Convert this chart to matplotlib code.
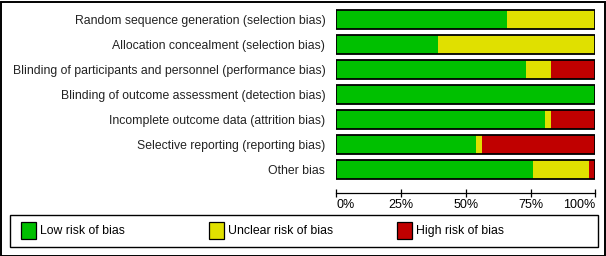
import matplotlib
matplotlib.use("Agg")
import matplotlib.pyplot as plt
from matplotlib.patches import Rectangle

plt.rcParams["font.family"] = ["Liberation Sans", "DejaVu Sans"]

domains = [
    "Random sequence generation (selection bias)",
    "Allocation concealment (selection bias)",
    "Blinding of participants and personnel (performance bias)",
    "Blinding of outcome assessment (detection bias)",
    "Incomplete outcome data (attrition bias)",
    "Selective reporting (reporting bias)",
    "Other bias",
]
low = [65.8, 39.2, 73.1, 100.0, 80.6, 53.8, 75.8]
unclear = [34.2, 60.8, 9.7, 0.0, 2.2, 2.3, 21.8]
high = [0.0, 0.0, 17.2, 0.0, 17.2, 43.9, 2.4]
legend_labels = ["Low risk of bias", "Unclear risk of bias", "High risk of bias"]
colors = ["#00c000", "#e0e000", "#c00000"]
ticks = [0, 25, 50, 75, 100]
tick_labels = ["0%", "25%", "50%", "75%", "100%"]

W, H = 606, 256
fig = plt.figure(figsize=(W / 100, H / 100), dpi=100)

# axes in pixel coordinates
x0, x1 = 336.3, 595.3
y0, y1 = 7, 182
ax = fig.add_axes((x0 / W, 1 - y1 / H, (x1 - x0) / W, (y1 - y0) / H))

pos = list(range(len(domains)))
h = 0.76
left = [0.0] * len(domains)
for vals, c in zip([low, unclear, high], colors):
    ax.barh(pos, vals, left=left, height=h, color=c, linewidth=0)
    left = [a + b for a, b in zip(left, vals)]
ax.barh(pos, [100] * len(domains), height=h, fill=False, edgecolor="black", linewidth=1.3)

ax.set_xlim(0, 100)
ax.set_ylim(len(domains) - 0.5, -0.5)
ax.set_yticks(pos)
ax.set_yticklabels(domains, fontsize=8.85, color="#222222")
ax.tick_params(axis="y", length=0, pad=7.9)

for s in ["top", "left", "right"]:
    ax.spines[s].set_visible(False)
ax.spines["bottom"].set_position(("outward", 7.9))
ax.spines["bottom"].set_linewidth(0.9)
ax.set_xticks(ticks)
ax.set_xticklabels(tick_labels, fontsize=9.0)
ax.tick_params(axis="x", direction="inout", length=6, width=0.9, pad=1)
xl = ax.get_xticklabels()
xl[0].set_ha("left")
xl[-1].set_ha("right")

# legend box
fig.patches.append(Rectangle((10 / W, 1 - 246.5 / H), 588 / W, 31.5 / H,
                             transform=fig.transFigure, fill=False,
                             edgecolor="black", linewidth=1.0))
leg_x = [21, 209, 397]
for lx, lab, c in zip(leg_x, legend_labels, colors):
    fig.patches.append(Rectangle((lx / W, 1 - 239 / H), 15 / W, 17 / H,
                                 transform=fig.transFigure, facecolor=c,
                                 edgecolor="black", linewidth=0.9))
    fig.text((lx + 19) / W, 1 - 231 / H, lab, fontsize=8.8, va="center", ha="left")

# outer frame
fig.patches.append(Rectangle((0.5 / W, 0.5 / H), (W - 2) / W, (H - 2) / H,
                             transform=fig.transFigure, fill=False,
                             edgecolor="black", linewidth=1.4))

fig.savefig("out.png", dpi=100)
